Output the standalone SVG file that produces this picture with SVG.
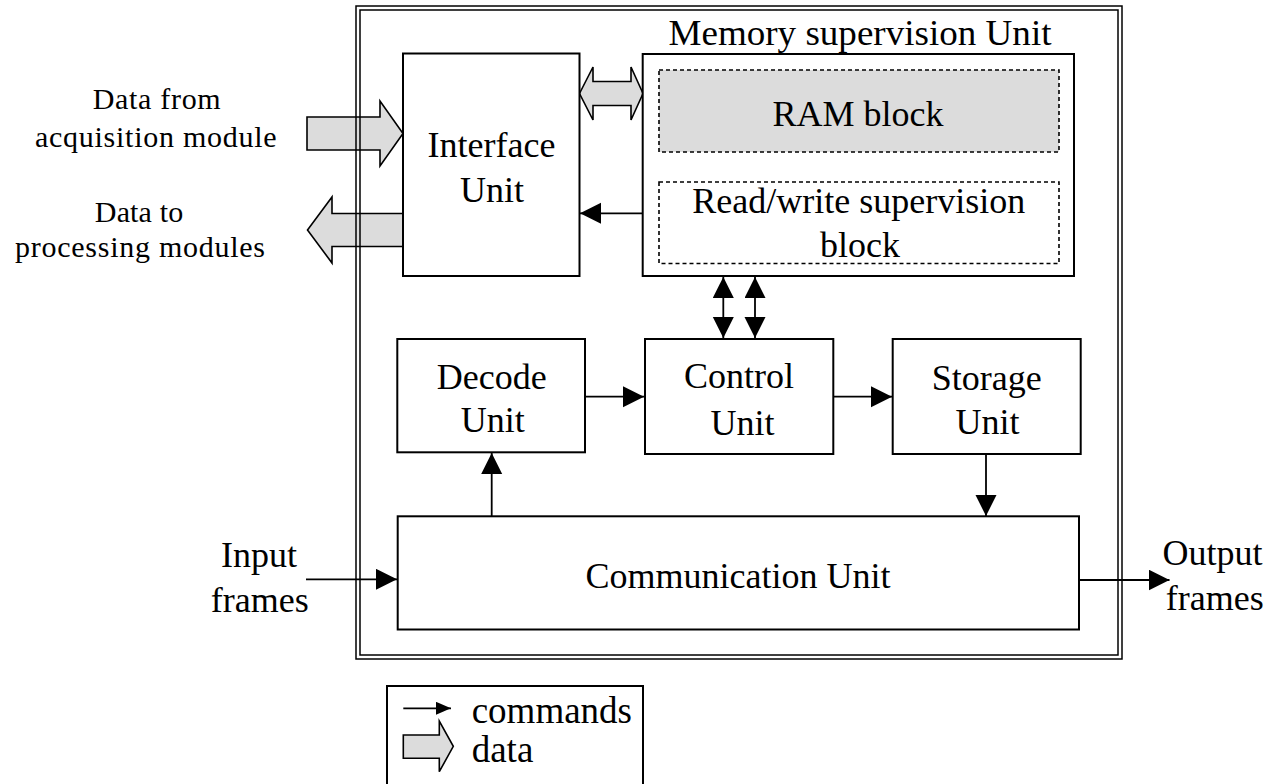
<svg xmlns="http://www.w3.org/2000/svg" width="1272" height="784" viewBox="0 0 1272 784">
  <style>
    .box { fill: #ffffff; stroke: #000000; stroke-width: 2; }
    .dash { fill: none; stroke: #000000; stroke-width: 1.6; stroke-dasharray: 4 3; }
    .ram { fill: #dcdcdc; }
    .frame { fill: none; stroke: #000000; stroke-width: 1.5; }
    .cmd { fill: none; stroke: #000000; stroke-width: 1.8; }
    .data { fill: #dcdcdc; stroke: #000000; stroke-width: 1.6; stroke-linejoin: miter; }
    text { font-family: "Liberation Serif", "Times New Roman", serif; font-size: 36px; fill: #000000; text-anchor: middle; }
    .side { font-size: 30px; }
    .legend { text-anchor: start; font-size: 37px; }
  </style>
  <defs>
    <marker id="head" markerUnits="userSpaceOnUse" markerWidth="22" markerHeight="22" refX="21" refY="10.5" orient="auto-start-reverse">
      <path d="M0,0 L21,10.5 L0,21 z" fill="#000000"/>
    </marker>
    <marker id="headSmall" markerUnits="userSpaceOnUse" markerWidth="16" markerHeight="14" refX="15" refY="6.5" orient="auto">
      <path d="M0,0 L15,6.5 L0,13 z" fill="#000000"/>
    </marker>
  </defs>

  <rect width="1272" height="784" fill="#ffffff"/>

  <!-- block (data) arrows, drawn beneath the enclosure frame -->
  <g id="data-arrows">
    <polygon class="data" points="307,117 380,117 380,101 403,133.5 380,166 380,150 307,150"/>
    <polygon class="data" points="403,213.5 332,213.5 332,197 307.5,230 332,263 332,246.5 403,246.5"/>
    <polygon class="data" points="579.5,93.5 593,67 593,81.5 631,81.5 631,67 643,93.5 631,120 631,105.5 593,105.5 593,120"/>
  </g>

  <!-- enclosing double frame -->
  <g id="enclosure">
    <rect class="frame" x="356" y="6" width="766" height="653"/>
    <rect class="frame" x="360" y="10" width="758" height="645"/>
  </g>

  <!-- command connectors -->
  <g id="connectors">
    <line class="cmd" x1="642.7" y1="213.3" x2="580" y2="213.3" marker-end="url(#head)"/>
    <line class="cmd" x1="723.3" y1="277" x2="723.3" y2="338" marker-start="url(#head)" marker-end="url(#head)"/>
    <line class="cmd" x1="755" y1="277" x2="755" y2="338" marker-start="url(#head)" marker-end="url(#head)"/>
    <line class="cmd" x1="586" y1="396.7" x2="644" y2="396.7" marker-end="url(#head)"/>
    <line class="cmd" x1="834" y1="396.7" x2="892" y2="396.7" marker-end="url(#head)"/>
    <line class="cmd" x1="986" y1="455" x2="986" y2="516" marker-end="url(#head)"/>
    <line class="cmd" x1="491.7" y1="516" x2="491.7" y2="453" marker-end="url(#head)"/>
    <line class="cmd" x1="306" y1="579.3" x2="397" y2="579.3" marker-end="url(#head)"/>
    <line class="cmd" x1="1079" y1="580" x2="1169.5" y2="580" marker-end="url(#head)"/>
  </g>

  <g id="interface-unit">
    <rect class="box" x="403" y="53.5" width="176.5" height="222.5"/>
    <text x="491.5" y="157">Interface</text>
    <text x="492" y="201.7">Unit</text>
  </g>

  <g id="memory-supervision-unit">
    <text x="860" y="45" font-size="34" textLength="383" lengthAdjust="spacingAndGlyphs">Memory supervision Unit</text>
    <rect class="box" x="642.7" y="54" width="431.3" height="222"/>
  </g>

  <g id="ram-block">
    <rect class="dash ram" x="659" y="70" width="400" height="82"/>
    <text x="858" y="126" font-size="37">RAM block</text>
  </g>

  <g id="read-write-block">
    <rect class="dash" x="659" y="182" width="400" height="81.5"/>
    <text x="858.7" y="213" font-size="37">Read/write supervision</text>
    <text x="860" y="257" font-size="37">block</text>
  </g>

  <g id="decode-unit">
    <rect class="box" x="397.3" y="339" width="187.7" height="113.3"/>
    <text x="491.7" y="389">Decode</text>
    <text x="492.8" y="431.7">Unit</text>
  </g>

  <g id="control-unit">
    <rect class="box" x="645" y="339" width="188.3" height="115"/>
    <text x="739" y="388">Control</text>
    <text x="742.5" y="435">Unit</text>
  </g>

  <g id="storage-unit">
    <rect class="box" x="892.7" y="339" width="188" height="115"/>
    <text x="986.7" y="390">Storage</text>
    <text x="987.5" y="434">Unit</text>
  </g>

  <g id="communication-unit">
    <rect class="box" x="397.7" y="516.3" width="681.3" height="113.2"/>
    <text x="738" y="588">Communication Unit</text>
  </g>

  <!-- external labels -->
  <g id="labels">
    <text class="side" x="156.7" y="109.3" textLength="128" lengthAdjust="spacing">Data from</text>
    <text class="side" x="155.8" y="146.7" textLength="241.7" lengthAdjust="spacing">acquisition module</text>
    <text class="side" x="139" y="221.7" textLength="88.3" lengthAdjust="spacing">Data to</text>
    <text class="side" x="140" y="256.7" textLength="250" lengthAdjust="spacing">processing modules</text>
    <text x="259" y="566.7">Input</text>
    <text x="259.7" y="611.7">frames</text>
    <text x="1212.5" y="565">Output</text>
    <text x="1214.7" y="610">frames</text>
  </g>

  <g id="legend">
    <rect class="box" x="387" y="686" width="256" height="110"/>
    <line class="cmd" x1="403.3" y1="708.3" x2="451" y2="708.3" marker-end="url(#headSmall)"/>
    <polygon class="data" points="403.3,735 439.3,735 439.3,721 453.3,746.3 439.3,771.7 439.3,758.3 403.3,758.3"/>
    <text class="legend" x="471.7" y="723">commands</text>
    <text class="legend" x="471.7" y="761.7">data</text>
  </g>
</svg>
